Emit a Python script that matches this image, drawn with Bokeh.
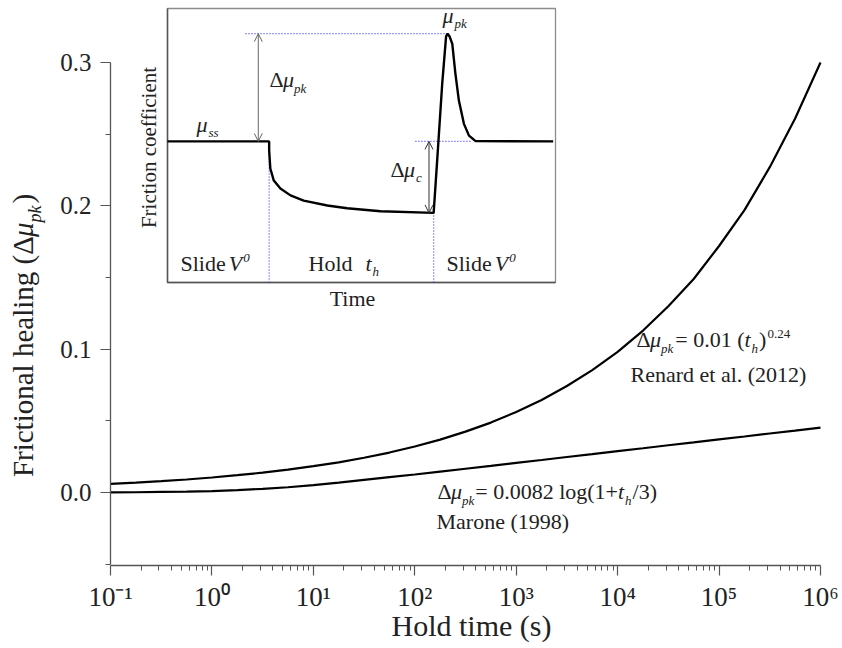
import math
from bokeh.plotting import figure
from bokeh.models import (Range1d, LinearScale, FixedTicker, CustomJSTickFormatter,
                          Label, Arrow, OpenHead)
from bokeh.embed import file_html
from bokeh.resources import INLINE

# ---------------- data ----------------
hold_time = [0.1, 0.178, 0.316, 0.562, 1, 1.78, 3.16, 5.62, 10, 17.8, 31.6, 56.2,
             100, 178, 316, 562, 1e3, 1.78e3, 3.16e3, 5.62e3, 1e4, 1.78e4, 3.16e4,
             5.62e4, 1e5, 1.78e5, 3.16e5, 5.62e5, 1e6]
renard_healing = [0.0060, 0.0069, 0.0079, 0.0091, 0.0105, 0.0121, 0.0139, 0.0160,
                  0.0184, 0.0211, 0.0243, 0.0279, 0.0321, 0.0369, 0.0425, 0.0488,
                  0.0562, 0.0646, 0.0743, 0.0854, 0.0982, 0.113, 0.130, 0.149,
                  0.172, 0.197, 0.227, 0.261, 0.300]
marone_healing = [0.0001, 0.0002, 0.0004, 0.0006, 0.0010, 0.0017, 0.0026, 0.0037,
                  0.0052, 0.0069, 0.0088, 0.0107, 0.0126, 0.0146, 0.0166, 0.0186,
                  0.0207, 0.0227, 0.0248, 0.0268, 0.0289, 0.0309, 0.0330, 0.0350,
                  0.0371, 0.0391, 0.0412, 0.0432, 0.0453]

x_ticks = [0.1, 1, 10, 100, 1e3, 1e4, 1e5, 1e6]
x_tick_labels = ["10\u207b\u00b9", "10\u2070", "10\u00b9", "10\u00b2", "10\u00b3",
                 "10\u2074", "10\u2075", "10\u2076"]
y_ticks = [0.0, 0.1, 0.2, 0.3]
y_tick_labels = ["0.0", "0.1", "0.2", "0.3"]
y_minor_ticks = [-0.05, 0.05, 0.15, 0.25]
x_axis_bounds = (0.1, 1e6)
y_axis_bounds = (-0.05, 0.3)

# inset: schematic slide-hold-slide friction trace (arbitrary units)
inset_time = [0, 26.2, 26.2, 26.5, 27.4, 29.1, 31.7, 35.1, 41.2, 46.3, 54.9, 68.6,
              69.5, 70.8, 71.8, 72.2, 72.7, 73.4, 74.2, 75.1, 76.4, 77.7, 79.4, 99.4]
inset_mu = [0.515, 0.515, 0.482, 0.416, 0.372, 0.343, 0.318, 0.299, 0.281, 0.271,
            0.260, 0.254, 0.445, 0.725, 0.898, 0.908, 0.898, 0.871, 0.762, 0.664,
            0.579, 0.536, 0.516, 0.515]

# ---------------- layout constants (canvas pixels) ----------------
W, H = 842, 648
AX_L, AX_R, AX_T, AX_B = 110, 820, 8, 565      # where the main axes sit
BOX_L, BOX_R, BOX_T, BOX_B = 167, 555, 8, 282  # inset box edges
T_MAX = 100.0
Y_AT_TOP, Y_AT_AXIS = 0.3377, -0.0509          # y values at AX_T and AX_B
FONT = "Liberation Serif"
TXT = "#222222"
AX = "#555555"
BASELINE_FIX = 0.42   # Label baseline correction, in em

# main ranges extended so that the whole canvas is plot frame
px_per_dec = (AX_R - AX_L) / math.log10(x_axis_bounds[1] / x_axis_bounds[0])
x_lo = x_axis_bounds[0] / 10 ** (AX_L / px_per_dec)
x_hi = x_axis_bounds[1] * 10 ** ((W - AX_R) / px_per_dec)
y_per_px = (Y_AT_TOP - Y_AT_AXIS) / (AX_B - AX_T)
y_lo = Y_AT_AXIS - (H - AX_B) * y_per_px
y_hi = Y_AT_TOP + AX_T * y_per_px

p = figure(width=W, height=H, x_axis_type="log",
           x_range=Range1d(x_lo, x_hi), y_range=Range1d(y_lo, y_hi),
           output_backend="svg", toolbar_location=None,
           min_border_left=0, min_border_right=0,
           min_border_top=0, min_border_bottom=0)
p.outline_line_color = None
p.grid.visible = False
p.background_fill_color = "white"

# pixel ranges (data = canvas pixels) and inset ranges
t_per_px = T_MAX / (BOX_R - BOX_L)
mu_per_px = 1.0 / (BOX_B - BOX_T)
p.extra_x_ranges = {
    "px": Range1d(0, W),
    "ix": Range1d(-BOX_L * t_per_px, (W - BOX_L) * t_per_px),
}
p.extra_x_scales = {"px": LinearScale(), "ix": LinearScale()}
p.extra_y_ranges = {
    "py": Range1d(H, 0),
    "iy": Range1d(-(H - BOX_B) * mu_per_px, BOX_B * mu_per_px),
}
p.extra_y_scales = {"py": LinearScale(), "iy": LinearScale()}

# ---------------- axes ----------------
x_minor = [m * d for d in x_ticks[:-1] for m in range(2, 10)]
xa = p.xaxis[0]
ya = p.yaxis[0]
xa.fixed_location = Y_AT_AXIS
ya.fixed_location = x_axis_bounds[0]
xa.bounds = x_axis_bounds
ya.bounds = y_axis_bounds
xa.ticker = FixedTicker(ticks=x_ticks, minor_ticks=x_minor)
xa.formatter = CustomJSTickFormatter(args=dict(tvals=x_ticks, tlabels=x_tick_labels), code="""
let best = -1, bd = 1e9;
for (let i = 0; i < tvals.length; i++) {
  const d = Math.abs(Math.log10(tvals[i]) - Math.log10(tick));
  if (d < bd) { bd = d; best = i; }
}
return bd < 1e-6 ? tlabels[best] : "";
""")
ya.ticker = FixedTicker(ticks=y_ticks, minor_ticks=y_minor_ticks)
ya.formatter = CustomJSTickFormatter(args=dict(tvals=y_ticks, tlabels=y_tick_labels), code="""
let best = -1, bd = 1e9;
for (let i = 0; i < tvals.length; i++) {
  const d = Math.abs(tvals[i] - tick);
  if (d < bd) { bd = d; best = i; }
}
return bd < 1e-9 ? tlabels[best] : "";
""")
for ax in (xa, ya):
    ax.axis_line_color = AX
    ax.axis_line_width = 1.3
    ax.major_tick_line_color = AX
    ax.minor_tick_line_color = AX
    ax.major_tick_line_width = 1.2
    ax.minor_tick_line_width = 1.0
    ax.major_tick_out = 10
    ax.major_tick_in = 0
    ax.minor_tick_out = 5
    ax.minor_tick_in = 0
    ax.major_label_text_font = FONT
    ax.major_label_text_color = TXT
xa.major_label_text_font_size = "27px"
xa.major_label_standoff = 6
ya.major_label_text_font_size = "25px"
ya.major_label_standoff = 9

# ---------------- main curves ----------------
p.line(hold_time, renard_healing, line_color="black", line_width=2.2)
p.line(hold_time, marone_healing, line_color="black", line_width=2.2)

# ---------------- text helpers ----------------
W_N = {' ': .25, '(': .333, ')': .333, '+': .564, '.': .25, '/': .278, '=': .564,
       'Δ': .612, 'μ': .5, 'F': .556, 'H': .722, 'M': .889, 'R': .667, 'S': .556,
       'T': .611, 'V': .722, 'a': .444, 'c': .444, 'd': .5, 'e': .444, 'f': .333,
       'g': .5, 'h': .5, 'i': .278, 'k': .5, 'l': .278, 'm': .778, 'n': .5, 'o': .5,
       'p': .5, 'r': .333, 's': .389, 't': .278, 'u': .5, 'y': .5}
W_I = {'t': .278, 'h': .5, 'p': .5, 'k': .444, 's': .389, 'c': .444, 'μ': .5,
       'V': .611, '0': .5}


def text_width(s, size, italic):
    tb = W_I if italic else W_N
    return sum(tb.get(c, .5) for c in s) * size


def add_label(x, y, text, size, italic=False, angle=0.0, align="left"):
    off = BASELINE_FIX * size
    if angle == 0.0:
        y = y - off
    else:
        x = x - off
    p.add_layout(Label(x=x, y=y, x_range_name="px", y_range_name="py", text=text,
                       text_font=FONT, text_font_size=f"{size}px",
                       text_font_style="italic" if italic else "normal",
                       text_color=TXT, text_align=align, text_baseline="alphabetic",
                       angle=angle))


def chain(pieces, x, y, angle=0.0, anchor="left"):
    # pieces: (text, size, italic, baseline shift, gap before)
    total = sum(text_width(t, sz, it) + g for t, sz, it, sh, g in pieces)
    pos = -total / 2 if anchor == "center" else 0.0
    for t, sz, it, sh, g in pieces:
        pos += g
        if angle == 0.0:
            add_label(x + pos, y + sh, t, sz, it)
        else:
            add_label(x + sh, y - pos, t, sz, it, angle=angle)
        pos += text_width(t, sz, it)


# axis titles
chain([("Frictional healing (Δ", 29, False, 0, 0), ("μ", 29, True, 0, 0),
       ("pk", 18, True, 7, 0), (")", 29, False, 0, 2)],
      35, 335, angle=math.pi / 2, anchor="center")
add_label(471, 638, "Hold time (s)", 30, align="center")

# curve annotations
chain([("Δ", 22, False, 0, 0), ("μ", 22, True, 0, 0), ("pk", 13, True, 5, 0),
       ("= 0.01 (", 22, False, 0, 2), ("t", 22, True, 0, 0), ("h", 13, True, 5, 1),
       (")", 22, False, 0, 1), ("0.24", 13, False, -9, 1)], 636, 348)
add_label(630, 383, "Renard et al. (2012)", 22)
chain([("Δ", 22, False, 0, 0), ("μ", 22, True, 0, 0), ("pk", 13, True, 5, 0),
       ("= 0.0082 log(1+", 22, False, 0, 1), ("t", 22, True, 0, 0),
       ("h", 13, True, 5, 1), ("/3)", 22, False, 0, 1)], 437, 500)
add_label(436, 530, "Marone (1998)", 22)

# ---------------- inset ----------------
IR = dict(x_range_name="ix", y_range_name="iy")
p.quad(left=0, right=T_MAX, bottom=0, top=1, fill_color="white",
       line_color="#8c8c8c", line_width=1.3, **IR)
p.line([0, 0, T_MAX], [1, 0, 0], line_color="#555555", line_width=1.5, **IR)

mu_ss = inset_mu[0]
mu_pk = max(inset_mu)
t_pk = inset_time[inset_mu.index(mu_pk)]
mu_min = min(inset_mu)
t_hold_end = inset_time[inset_mu.index(mu_min)]
t_hold_start = inset_time[1]

DOT = "#3b3bff"
p.line([20.1, t_pk], [mu_pk, mu_pk], line_color=DOT, line_dash="1 2", line_width=1.2, **IR)
p.line([63.9, 78.1], [mu_ss, mu_ss], line_color=DOT, line_dash="1 2", line_width=1.2, **IR)
p.line([t_hold_start, t_hold_start], [0, mu_ss], line_color=DOT, line_dash="1 2",
       line_width=1.2, **IR)
p.line([t_hold_end, t_hold_end], [0, mu_min], line_color=DOT, line_dash="1 2",
       line_width=1.2, **IR)

p.line(inset_time, inset_mu, line_color="black", line_width=2.4, **IR)

for xa_, y0, y1, col in ((23.4, mu_ss, mu_pk, "#666666"), (67.4, mu_ss, mu_min, "#333333")):
    p.add_layout(Arrow(start=OpenHead(size=8, line_color=col, line_width=1),
                       end=OpenHead(size=8, line_color=col, line_width=1),
                       x_start=xa_, y_start=y0, x_end=xa_, y_end=y1,
                       line_color=col, line_width=1, **IR))

# inset labels
chain([("μ", 22, True, 0, 0), ("ss", 13, True, 4, 1)], 196, 133)
chain([("Δ", 22, False, 0, 0), ("μ", 22, True, 0, 0), ("pk", 13, True, 5, 0)], 269, 88)
chain([("μ", 22, True, 0, 0), ("pk", 13, True, 4, 1)], 442, 24)
chain([("Δ", 22, False, 0, 0), ("μ", 22, True, 0, 0), ("c", 13, True, 4, 1)], 390, 178)
chain([("Slide", 22, False, 0, 0), ("V", 22, True, 0, 3), ("0", 13, True, -9, 1)], 180, 272)
chain([("Hold", 22, False, 0, 0), ("t", 22, True, 0, 13), ("h", 13, True, 4, 1)], 308, 272)
chain([("Slide", 22, False, 0, 0), ("V", 22, True, 0, 3), ("0", 13, True, -9, 1)], 446, 272)
add_label(352, 307, "Time", 22, align="center")
add_label(157, 147, "Friction coefficient", 21, angle=math.pi / 2, align="center")

open("out.html", "w").write(file_html(p, INLINE))
